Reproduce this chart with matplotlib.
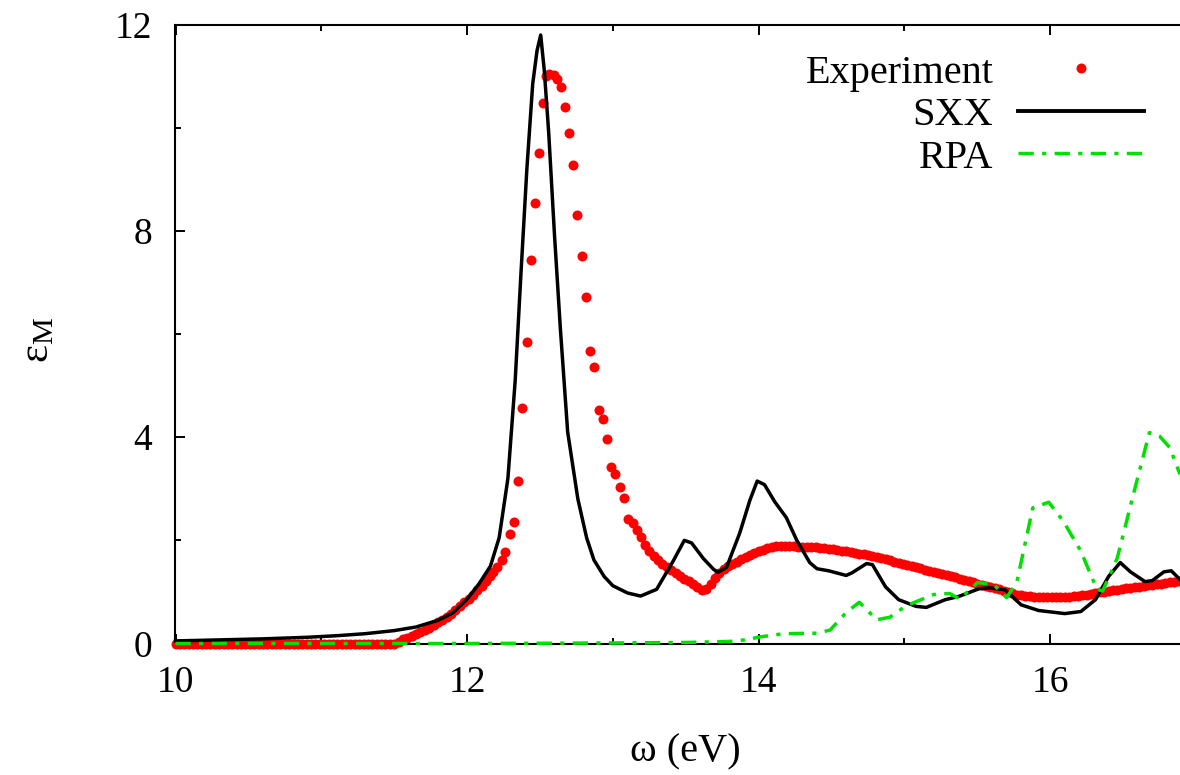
import matplotlib
matplotlib.use('Agg')
import matplotlib.pyplot as plt
from matplotlib.lines import Line2D
from matplotlib.ticker import MultipleLocator

plt.rcParams['font.family'] = ['Liberation Serif', 'DejaVu Serif']
plt.rcParams['mathtext.fontset'] = 'custom'
plt.rcParams['mathtext.rm'] = 'Liberation Serif'
plt.rcParams['mathtext.it'] = 'Liberation Serif:italic'

# ---------------- data ----------------
exp_x = [
    10.00, 10.03, 10.06, 10.09, 10.12, 10.15, 10.18, 10.21, 10.24, 10.27,
    10.30, 10.33, 10.36, 10.39, 10.42, 10.45, 10.48, 10.51, 10.54, 10.57,
    10.60, 10.63, 10.66, 10.69, 10.72, 10.75, 10.78, 10.81, 10.84, 10.87,
    10.90, 10.93, 10.96, 10.99, 11.02, 11.05, 11.08, 11.11, 11.14, 11.17,
    11.20, 11.23, 11.26, 11.29, 11.32, 11.35, 11.38, 11.41, 11.44, 11.47,
    11.50,
    11.53, 11.56, 11.59, 11.62, 11.65, 11.68, 11.71, 11.74, 11.77, 11.80,
    11.83, 11.86, 11.89, 11.92, 11.95, 11.98, 12.01, 12.04, 12.07, 12.10,
    12.13, 12.16, 12.18,
    12.207, 12.237, 12.262, 12.292, 12.322, 12.351, 12.379, 12.409, 12.438, 12.468,
    12.495, 12.519, 12.541, 12.564, 12.596, 12.619, 12.644, 12.672, 12.699, 12.728,
    12.756, 12.786, 12.816, 12.845, 12.872, 12.903, 12.932, 12.958, 12.987, 13.016,
    13.049, 13.076, 13.106, 13.136, 13.163,
    13.19, 13.22, 13.25, 13.28, 13.31, 13.34, 13.37, 13.40, 13.43, 13.46,
    13.49, 13.52, 13.55, 13.58, 13.61, 13.64, 13.67, 13.70, 13.73, 13.76,
    13.79, 13.82, 13.85, 13.88, 13.91, 13.94, 13.97, 14.00, 14.03, 14.06,
    14.09, 14.12, 14.15, 14.18, 14.21, 14.24, 14.27, 14.30, 14.33, 14.36,
    14.39, 14.42, 14.45, 14.48, 14.51, 14.54, 14.57, 14.60, 14.63, 14.66,
    14.69, 14.72, 14.75, 14.78, 14.81, 14.84, 14.87, 14.90, 14.93, 14.96,
    14.99, 15.02, 15.05, 15.08, 15.11, 15.14, 15.17, 15.20, 15.23, 15.26,
    15.29, 15.32, 15.35, 15.38, 15.41, 15.44, 15.47, 15.50, 15.53, 15.56,
    15.59, 15.62, 15.65, 15.68, 15.71, 15.74, 15.77, 15.80, 15.83, 15.86,
    15.89, 15.92, 15.95, 15.98, 16.01, 16.04, 16.07, 16.10, 16.13, 16.16,
    16.19, 16.22, 16.25, 16.28, 16.31, 16.34, 16.37, 16.40, 16.43, 16.46,
    16.49, 16.52, 16.55, 16.58, 16.61, 16.64, 16.67, 16.70, 16.73, 16.76,
    16.79, 16.82, 16.85, 16.88,
]
exp_y = [
    0.00, 0.00, 0.00, 0.00, 0.00, 0.00, 0.00, 0.00, 0.00, 0.00,
    0.00, 0.00, 0.00, 0.00, 0.00, 0.00, 0.00, 0.00, 0.00, 0.00,
    0.00, 0.00, 0.00, 0.00, 0.00, 0.00, 0.00, 0.00, 0.00, 0.00,
    0.00, 0.00, 0.00, 0.00, 0.00, 0.00, 0.00, 0.00, 0.00, 0.00,
    0.00, 0.00, 0.00, 0.00, 0.00, 0.00, 0.00, 0.00, 0.00, 0.00,
    0.00,
    0.03, 0.08, 0.11, 0.15, 0.19, 0.22, 0.26, 0.30, 0.35, 0.41,
    0.46, 0.52, 0.58, 0.65, 0.73, 0.80, 0.87, 0.95, 1.04, 1.12,
    1.21, 1.30, 1.38,
    1.49, 1.62, 1.78, 2.12, 2.35, 3.16, 4.56, 5.84, 7.43, 8.54,
    9.51, 10.49, 11.00, 11.04, 11.02, 10.94, 10.80, 10.41, 9.90, 9.28,
    8.31, 7.51, 6.71, 5.67, 5.36, 4.53, 4.36, 3.96, 3.42, 3.29,
    3.03, 2.83, 2.41, 2.33, 2.20,
    2.07, 1.91, 1.80, 1.70, 1.62, 1.55, 1.48, 1.42, 1.37, 1.31,
    1.26, 1.21, 1.15, 1.09, 1.04, 1.05, 1.16, 1.27, 1.36, 1.44,
    1.50, 1.55, 1.59, 1.63, 1.68, 1.72, 1.76, 1.79, 1.82, 1.85,
    1.87, 1.89, 1.90, 1.90, 1.90, 1.89, 1.88, 1.88, 1.88, 1.87,
    1.87, 1.86, 1.85, 1.84, 1.83, 1.82, 1.80, 1.79, 1.77, 1.76,
    1.74, 1.73, 1.71, 1.70, 1.68, 1.66, 1.64, 1.62, 1.59, 1.57,
    1.55, 1.52, 1.50, 1.48, 1.46, 1.43, 1.41, 1.39, 1.37, 1.35,
    1.32, 1.30, 1.28, 1.26, 1.24, 1.22, 1.19, 1.16, 1.14, 1.11,
    1.09, 1.07, 1.05, 1.02, 1.00, 0.98, 0.95, 0.94, 0.93, 0.92,
    0.91, 0.90, 0.90, 0.90, 0.90, 0.90, 0.90, 0.91, 0.91, 0.92,
    0.93, 0.94, 0.95, 0.96, 0.98, 0.99, 1.00, 1.02, 1.03, 1.04,
    1.05, 1.07, 1.08, 1.09, 1.10, 1.11, 1.13, 1.14, 1.15, 1.16,
    1.17, 1.19, 1.20, 1.22,
]

sxx_x = [10.0, 10.3, 10.6, 10.9, 11.1, 11.3, 11.5, 11.65, 11.8, 11.9,
         12.0, 12.08, 12.16, 12.22, 12.28, 12.33, 12.37, 12.41, 12.45, 12.48,
         12.505, 12.53, 12.56, 12.6, 12.64, 12.69, 12.76, 12.82, 12.87, 12.94,
         13.0, 13.1, 13.19, 13.3, 13.41, 13.49, 13.54, 13.62, 13.69, 13.72,
         13.78, 13.87, 13.94, 13.99, 14.04, 14.11, 14.19, 14.26, 14.35, 14.4,
         14.48, 14.6, 14.64, 14.74, 14.78, 14.87, 14.96, 15.08, 15.15, 15.28,
         15.37, 15.51, 15.58, 15.69, 15.8, 15.92, 16.1, 16.21, 16.31, 16.4,
         16.48, 16.55, 16.65, 16.7, 16.78, 16.83, 16.89]
sxx_y = [0.05, 0.07, 0.09, 0.12, 0.15, 0.19, 0.25, 0.32, 0.45, 0.59,
         0.86, 1.15, 1.50, 2.05, 3.20, 5.10, 7.20, 9.20, 10.85, 11.50,
         11.80, 11.10, 9.90, 7.90, 6.10, 4.10, 2.80, 2.05, 1.62, 1.30,
         1.12, 0.98, 0.92, 1.05, 1.58, 2.00, 1.95, 1.65, 1.44, 1.38,
         1.48, 2.14, 2.78, 3.15, 3.08, 2.75, 2.44, 2.01, 1.57, 1.45,
         1.41, 1.32, 1.37, 1.55, 1.53, 1.10, 0.85, 0.72, 0.70, 0.85,
         0.91, 1.06, 1.08, 1.04, 0.75, 0.64, 0.58, 0.62, 0.85, 1.30,
         1.57, 1.39, 1.20, 1.22, 1.39, 1.41, 1.24]

rpa_x = [10.0, 11.0, 12.0, 13.0, 13.5, 13.8, 13.94, 13.99, 14.17, 14.40,
         14.49, 14.60, 14.69, 14.81, 14.90, 15.01, 15.20, 15.31, 15.38, 15.50,
         15.61, 15.70, 15.77, 15.88, 15.99, 16.09, 16.21, 16.32, 16.36, 16.46,
         16.57, 16.68, 16.75, 16.82, 16.89]
rpa_y = [0.0, 0.0, 0.0, 0.01, 0.02, 0.04, 0.08, 0.12, 0.19, 0.20,
         0.26, 0.60, 0.80, 0.46, 0.51, 0.73, 0.95, 0.97, 0.86, 1.18,
         1.15, 0.89, 1.18, 2.63, 2.74, 2.37, 1.79, 1.05, 1.02, 1.66,
         2.89, 4.09, 4.02, 3.80, 3.28]

labels = ['Experiment', 'SXX', 'RPA']
xticks = [10, 12, 14, 16]
yticks = [0, 4, 8, 12]

RED = '#ff0000'
GREEN = '#00e000'
BLACK = '#000000'
RPA_DASH = (0, (4.4, 2.4, 1.2, 2.4))

# ---------------- figure ----------------
W, H = 1180, 775
fig = plt.figure(figsize=(W / 100, H / 100), dpi=100)
ax = fig.add_axes([175.5 / W, 1 - 643.5 / H, (W - 175.5) / W, (643.5 - 24.7) / H])

ax.plot(exp_x, exp_y, linestyle='none', marker='o', ms=7.2, mew=0,
        color=RED, clip_on=False, zorder=3)
ax.plot(sxx_x, sxx_y, color=BLACK, lw=2.5, zorder=4, clip_on=False)
ax.plot(rpa_x, rpa_y, color=GREEN, lw=2.5, linestyle=RPA_DASH, zorder=5,
        clip_on=False)

ax.set_xlim(10, 16.89)
ax.set_ylim(0, 12)
ax.set_xticks(xticks)
ax.set_yticks(yticks)
ax.xaxis.set_minor_locator(MultipleLocator(1))
ax.yaxis.set_minor_locator(MultipleLocator(2))
ax.tick_params(which='both', direction='in', top=True, right=False,
               width=1.4, labelsize=27)
ax.tick_params(axis='x', which='major', length=7.5, pad=16)
ax.tick_params(axis='y', which='major', length=7.5, pad=17)
ax.tick_params(which='minor', length=4)
ax.spines['right'].set_visible(False)
for s in ['left', 'bottom', 'top']:
    ax.spines[s].set_linewidth(1.5)

fig.text(685 / W, 1 - 752 / H, 'ω (eV)', fontsize=29, ha='center', va='center')
fig.text(38 / W, 1 - 340 / H, r'$\mathrm{ε_M}$', fontsize=31, rotation=90,
         ha='center', va='center')

# legend (gnuplot style: right-aligned text, sample on the right)
tx = 993.3 / W
for lab, yb in zip(labels, [83.3, 125.0, 168.3]):
    fig.text(tx, 1 - yb / H, lab, fontsize=29, ha='right', va='baseline')
fig.add_artist(Line2D([1081 / W], [1 - 68.3 / H], linestyle='none', marker='o',
                      ms=7.2, mew=0, color=RED, transform=fig.transFigure))
fig.add_artist(Line2D([1018 / W, 1144 / W], [1 - 111 / H, 1 - 111 / H],
                      color=BLACK, lw=2.8, transform=fig.transFigure))
fig.add_artist(Line2D([1018 / W, 1144 / W], [1 - 153.3 / H, 1 - 153.3 / H],
                      color=GREEN, lw=2.5, linestyle=RPA_DASH,
                      transform=fig.transFigure))

fig.savefig('out.png', dpi=100)
